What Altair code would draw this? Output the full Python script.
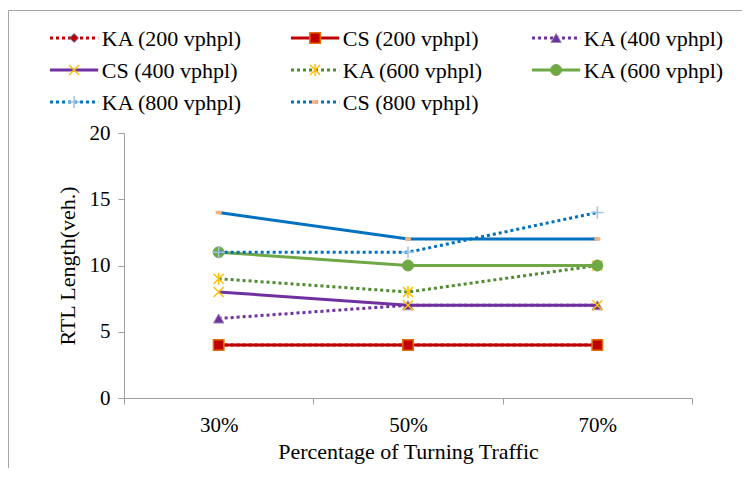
import altair as alt
import pandas as pd

# ---------------- data ----------------
categories = ["30%", "50%", "70%"]
series_labels = [
    "KA (200 vphpl)", "CS (200 vphpl)", "KA (400 vphpl)",
    "CS (400 vphpl)", "KA (600 vphpl)", "KA (600 vphpl)",
    "KA (800 vphpl)", "CS (800 vphpl)",
]
ka200 = [4, 4, 4]
cs200 = [4, 4, 4]
ka400 = [6, 7, 7]
cs400 = [8, 7, 7]
ka600 = [9, 8, 10]
cs600 = [11, 10, 10]
ka800 = [11, 11, 14]
cs800 = [14, 12, 12]
series_values = [ka200, cs200, ka400, cs400, ka600, cs600, ka800, cs800]

y_ticks = [0, 5, 10, 15, 20]

# ---------------- styles ----------------
DOT = [3, 3]
X_PATH = "M-1,-1L1,1M-1,1L1,-1"
STAR_PATH = "M-1,-1L1,1M-1,1L1,-1M0,-1.2L0,1.2"
PLUS_PATH = "M-1,0L1,0M0,-1L0,1"
DASH_PATH = "M-1,-0.55L1,-0.55L1,0.55L-1,0.55Z"

styles = [
    dict(color="#C00000", dash=DOT, ldash=DOT, shape="diamond", filled=True, fill="#C00000", stroke="#4F81BD", size=80, sw=1),
    dict(color="#C00000", dash=None, ldash=None, shape="square", filled=True, fill="#C00000", stroke="#E46C0A", size=110, sw=1.5),
    dict(color="#7030A0", dash=DOT, ldash=DOT, shape="triangle-up", filled=True, fill="#7030A0", stroke="#9A8CB8", size=110, sw=1),
    dict(color="#7030A0", dash=None, ldash=None, shape=X_PATH, filled=False, fill=None, stroke="#FFC000", size=100, sw=1.5),
    dict(color="#4E8A2E", dash=DOT, ldash=DOT, shape=STAR_PATH, filled=False, fill=None, stroke="#FFC000", size=100, sw=1.5),
    dict(color="#6FA845", dash=None, ldash=None, shape="circle", filled=True, fill="#6FA845", stroke="#6FA845", size=120, sw=1),
    dict(color="#0070C0", dash=DOT, ldash=DOT, shape=PLUS_PATH, filled=False, fill=None, stroke="#9DC3E6", size=150, sw=1.5),
    dict(color="#0070C0", dash=None, ldash=DOT, shape=DASH_PATH, filled=True, fill="#F4B183", stroke="#F4B183", size=30, sw=0.5),
]

FONT = "Liberation Serif, 'Times New Roman', Times, serif"

x_enc = alt.X(
    "pct:N", sort=categories,
    scale=alt.Scale(type="band", domain=categories, paddingInner=0, paddingOuter=0),
    axis=alt.Axis(title="Percentage of Turning Traffic", tickBand="extent", labelAngle=0,
                  tickSize=6, labelPadding=10, titlePadding=6, labelFontSize=21, titleFontSize=22),
)
y_enc = alt.Y(
    "value:Q",
    scale=alt.Scale(domain=[0, 20], nice=False, zero=True),
    axis=alt.Axis(title="RTL Length(veh.)", values=y_ticks, grid=False, tickSize=6,
                  labelPadding=8, titlePadding=10, labelFontSize=21, titleFontSize=22),
)


def mark_kwargs(st):
    kw = dict(shape=st["shape"], filled=st["filled"], size=st["size"], opacity=1, strokeWidth=st["sw"],
              stroke=st["stroke"])
    if st["fill"] is not None:
        kw["fill"] = st["fill"]
    return kw


def line_kwargs(st, dash):
    kw = dict(color=st["color"], strokeWidth=3, strokeCap="butt")
    if dash is not None:
        kw["strokeDash"] = dash
    return kw


main_layers = []
for vals, st in zip(series_values, styles):
    df = pd.DataFrame({"pct": categories, "value": vals})
    main_layers.append(alt.Chart(df).mark_line(**line_kwargs(st, st["dash"])).encode(x=x_enc, y=y_enc))
    main_layers.append(alt.Chart(df).mark_point(**mark_kwargs(st)).encode(x=x_enc, y=y_enc))
main = alt.layer(*main_layers)

# ---------------- custom legend (3 columns) ----------------
lx = alt.Scale(domain=[0, 2], range=[-74, 408])
ly = alt.Scale(domain=[0, 2], range=[-95, -31])
legend_layers = []
frame_df = pd.DataFrame({"a": [0]})
legend_layers.append(
    alt.Chart(frame_df).mark_rect(fillOpacity=0, stroke="#A6A6A6", strokeWidth=1).encode(
        x=alt.value(-115.5), x2=alt.value(640), y=alt.value(-122.5), y2=alt.value(360)
    )
)
for i, (lab, st) in enumerate(zip(series_labels, styles)):
    col = i % 3
    row = i // 3
    d = pd.DataFrame({"c0": [col], "c1": [col + 0.2], "cm": [col + 0.1], "ct": [col + 0.215],
                      "row": [row], "label": [lab]})
    legend_layers.append(alt.Chart(d).mark_rule(**line_kwargs(st, st["ldash"])).encode(
        x=alt.X("c0:Q", scale=lx, axis=None), x2="c1:Q", y=alt.Y("row:Q", scale=ly, axis=None)))
    legend_layers.append(alt.Chart(d).mark_point(**mark_kwargs(st)).encode(
        x=alt.X("cm:Q", scale=lx, axis=None), y=alt.Y("row:Q", scale=ly, axis=None)))
    legend_layers.append(alt.Chart(d).mark_text(align="left", baseline="middle", font=FONT, fontSize=22,
                                                color="black", dy=1).encode(
        x=alt.X("ct:Q", scale=lx, axis=None), y=alt.Y("row:Q", scale=ly, axis=None), text="label:N"))
legend = alt.layer(*legend_layers)

chart = (
    alt.layer(main, legend)
    .resolve_scale(x="independent", y="independent")
    .properties(
        width=568, height=265,
        autosize=alt.AutoSizeParams(type="none"),
        padding={"left": 116, "top": 125, "right": 50, "bottom": 70},
        background="white",
    )
    .configure_view(stroke=None)
    .configure_axis(
        labelFont=FONT, titleFont=FONT, labelColor="black", titleColor="black",
        titleFontWeight="normal", domainColor="#A0A0A0", tickColor="#A0A0A0", domainWidth=1,
    )
)

chart.save("out.html", embed_options={"renderer": "svg", "actions": False})
